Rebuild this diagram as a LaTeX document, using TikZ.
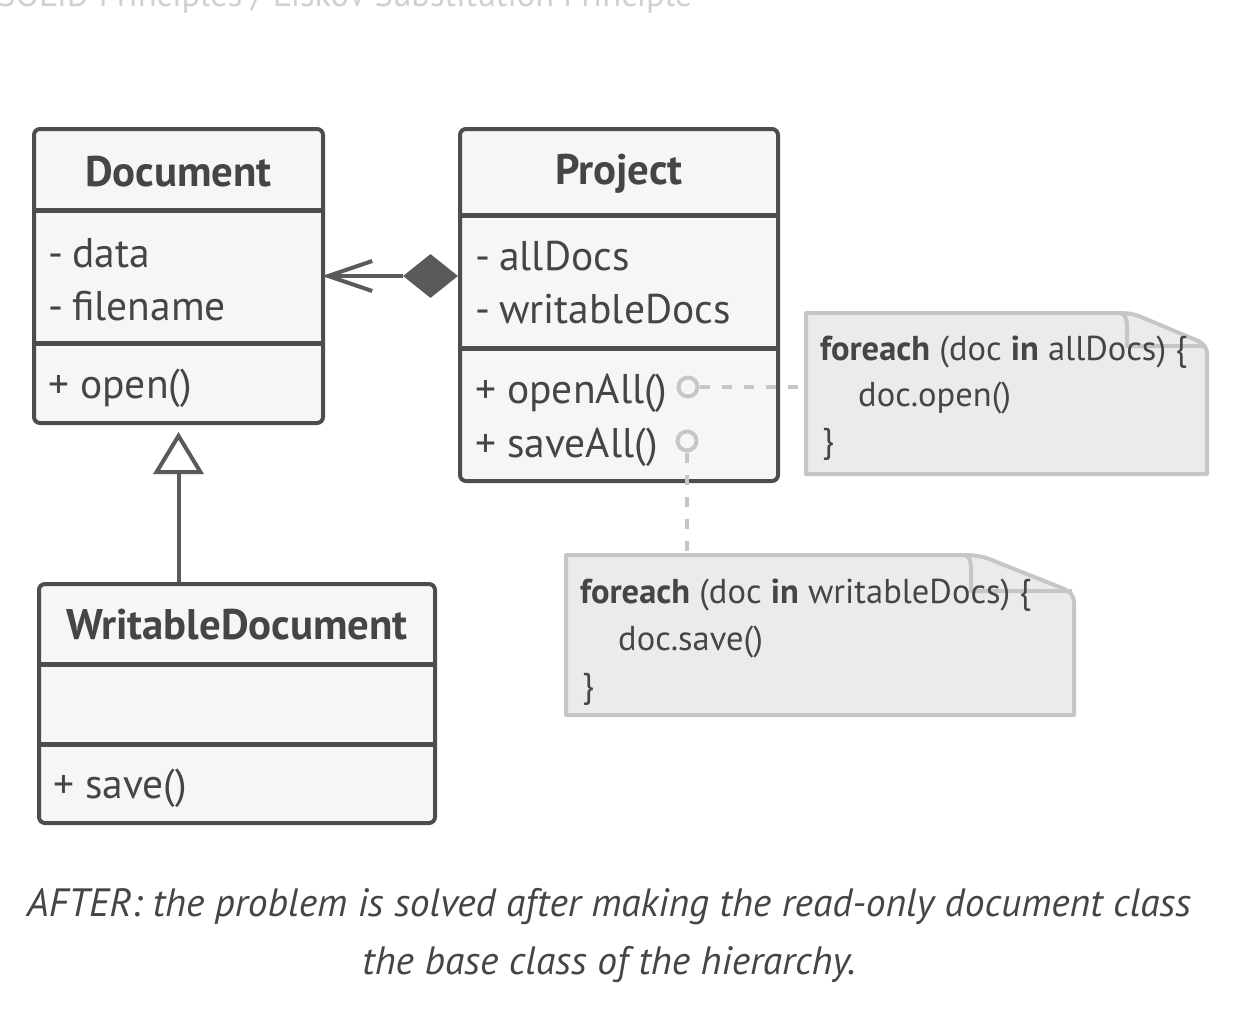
\documentclass[tikz,border=0pt]{standalone}
\usepackage{fontspec}
\setmainfont{PT Sans}
\usetikzlibrary{arrows.meta,shapes.geometric}
\definecolor{border}{HTML}{4D4D4D}
\definecolor{boxfill}{HTML}{F6F6F6}
\definecolor{txt}{HTML}{454545}
\definecolor{notefill}{HTML}{EBEBEB}
\definecolor{notedraw}{HTML}{C6C6C6}
\definecolor{conn}{HTML}{5A5A5A}
\definecolor{titlegray}{HTML}{D0D0D0}
\tikzset{
  classbox/.style={draw=border, line width=4pt, fill=boxfill, rounded corners=6pt, inner sep=0pt},
  divider/.style={draw=border, line width=5pt},
  cname/.style={font=\fontsize{42.8}{50}\selectfont\bfseries, text=txt, inner sep=0pt},
  attr/.style={font=\fontsize{41.5}{48}\selectfont, text=txt, inner sep=0pt, anchor=base west},
  notebox/.style={draw=notedraw, line width=4pt, fill=notefill, line join=round},
  notetxt/.style={font=\fontsize{34.5}{40}\selectfont, text=txt, inner sep=0pt, anchor=base west},
  port/.style={circle, draw=notedraw, line width=4pt, minimum size=19pt, inner sep=0pt},
  dashline/.style={draw=notedraw, line width=4pt, dash pattern=on 10pt off 12pt},
  connline/.style={draw=conn, line width=4pt},
  captxt/.style={font=\fontsize{39.5}{46}\selectfont\itshape, text=txt, inner sep=0pt, anchor=base}
}
\begin{document}
\begin{tikzpicture}[x=1pt,y=-1pt]
\useasboundingbox (0,0) rectangle (1244,1012);

% faint title (cut off at the top, as in the reference)
\node[anchor=base west, text=titlegray, font=\fontsize{34.5}{40}\selectfont, inner sep=0pt] (title) at (-3,6) {SOLID Principles / Liskov Substitution Principle};

% Document
\node[classbox, minimum width=289pt, minimum height=294pt] (doc) at (178.5,276) {};
\draw[divider] (32,210.5) -- (325,210.5);
\draw[divider] (32,343) -- (325,343);
\node[cname] (docN) at (178.5,172) {Document};
\node[attr] (docA1) at (48,267) {-\kern-2pt\ data};
\node[attr] (docA2) at (48,320) {-\kern-2pt\ filename};
\node[attr] (docM1) at (48,398) {+ open()};

% Project
\node[classbox, minimum width=318pt, minimum height=352pt] (proj) at (619,305) {};
\draw[divider] (458,215.5) -- (780,215.5);
\draw[divider] (458,348.5) -- (780,348.5);
\node[cname] (projN) at (619,174) {Project};
\node[attr] (projA1) at (475,270) {-\kern-2pt\ allDocs};
\node[attr] (projA2) at (475,323) {-\kern-2pt\ writableDocs};
\node[attr] (projM1) at (475,403) {+ openAll()};
\node[attr] (projM2) at (475,457) {+ saveAll()};

% WritableDocument
\node[classbox, minimum width=396pt, minimum height=239pt] (wd) at (237,703.5) {};
\draw[divider] (37,664.5) -- (437,664.5);
\draw[divider] (37,744) -- (437,744);
\node[cname] (wdN) at (237,625) {WritableDocument};
\node[attr] (wdM1) at (53,798) {+ save()};

% Note 1
\draw[notebox] (806,313) -- (1118,313) .. controls (1128,313) and (1134,314) .. (1140,316.5)
  -- (1196,340) .. controls (1204,343.5) and (1207,347) .. (1207,355) -- (1207,474) -- (806,474) -- cycle;
\draw[notebox, fill=none] (1121,313) .. controls (1126,315) and (1127,320) .. (1127,328) -- (1127,346) -- (1205,346);
\coordinate (n1w) at (806,387);
\node[notetxt] (n1a) at (820,360) {\textbf{foreach} (doc \textbf{in} allDocs) \{};
\node[notetxt] (n1b) at (858,406) {doc.open()};
\node[notetxt] (n1c) at (822,452) {\}};

% Note 2
\draw[notebox] (566,555) -- (962,555) .. controls (974,555) and (982,556) .. (989,559)
  -- (1062,588) .. controls (1070,591.5) and (1074,595) .. (1074,603) -- (1074,715) -- (566,715) -- cycle;
\draw[notebox, fill=none] (965,555) .. controls (970,557) and (971,562) .. (971,570) -- (971,591) -- (1072,591);
\coordinate (n2n) at (687,555);
\node[notetxt] (n2a) at (580,603) {\textbf{foreach} (doc \textbf{in} writableDocs) \{};
\node[notetxt] (n2b) at (618,650) {doc.save()};
\node[notetxt] (n2c) at (582,697) {\}};

% ports and dashed links
\node[port] (p1) at (688,387) {};
\node[port] (p2) at (687,441) {};
\draw[dashline] (p1.east) -- (n1w);
\draw[dashline] (p2.south) -- (n2n);

% aggregation
\node[diamond, fill=conn, minimum width=55pt, minimum height=44pt, inner sep=0pt] (dia) at (430.5,276) {};
\draw[connline, -{Straight Barb[length=44pt,width=30pt]}, shorten >=-3pt] (dia.west) -- (doc.east);

% inheritance
\draw[connline, -{Triangle[open, length=42pt, width=50pt, fill=white]}, shorten >=7pt] (wd.north -| doc.south) -- (doc.south);

% caption
\node[captxt] (cap1) at (609,916) {AFTER: the problem is solved after making the read-only document class};
\node[captxt] (cap2) at (609,974) {the base class of the hierarchy.};
\end{tikzpicture}
\end{document}
